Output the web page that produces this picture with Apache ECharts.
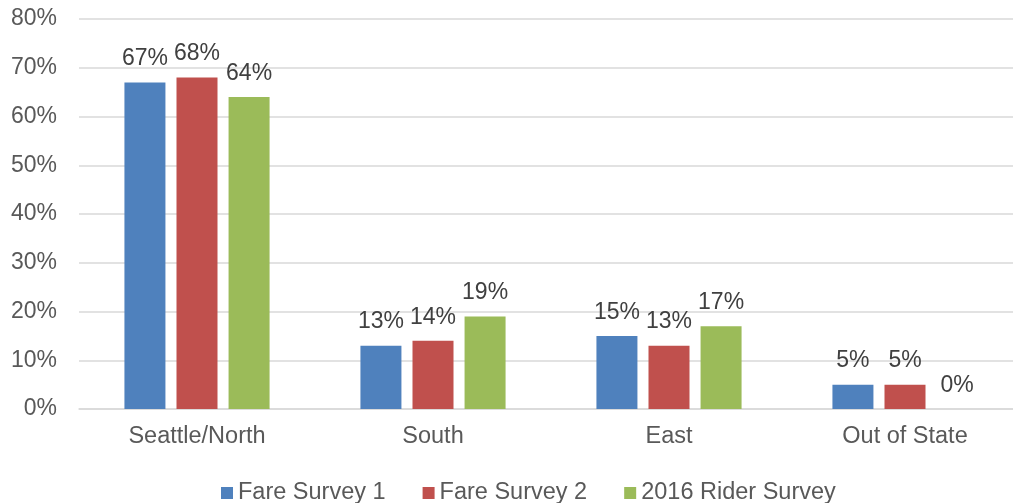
<!DOCTYPE html>
<html>
<head>
<meta charset="utf-8">
<script src="https://cdn.jsdelivr.net/npm/echarts@6/dist/echarts.min.js"></script>
<style>
  html, body { margin: 0; padding: 0; background: #fff; overflow: hidden; }
  #chart { width: 1023px; height: 503px; }
</style>
</head>
<body>
<div id="chart"></div>
<script>
  // regions and survey shares (%)
  var regions = ['Seattle/North', 'South', 'East', 'Out of State'];
  var fareSurvey1 = [67, 13, 15, 5];
  var fareSurvey2 = [68, 14, 13, 5];
  var riderSurvey2016 = [64, 19, 17, 0];
  var seriesNames = ['Fare Survey 1', 'Fare Survey 2', '2016 Rider Survey'];
  var colors = ['#4f81bd', '#c0504d', '#9bbb59'];

  var font = 'Liberation Sans, Arial, sans-serif';
  var fs = 23;

  function bar(name, data, color) {
    return {
      name: name,
      type: 'bar',
      data: data,
      barWidth: 41,
      barGap: '27%',
      itemStyle: { color: color },
      label: {
        show: true,
        position: 'top',
        distance: 12,
        formatter: '{c}%',
        color: '#404040',
        fontSize: fs,
        fontFamily: font
      }
    };
  }

  var chart = echarts.init(document.getElementById('chart'));
  chart.setOption({
    animation: false,
    color: colors,
    grid: { left: 79, top: 19, right: 0, height: 390 },
    legend: {
      data: seriesNames,
      top: 476,
      left: 216,
      icon: 'rect',
      itemWidth: 12,
      itemHeight: 12,
      itemGap: 37,
      textStyle: { color: '#595959', fontSize: 23.5, fontFamily: font }
    },
    xAxis: {
      type: 'category',
      data: regions,
      axisTick: { show: false },
      axisLine: { lineStyle: { color: '#d9d9d9', width: 1.5 } },
      axisLabel: { color: '#595959', fontSize: 23.5, fontFamily: font, margin: 16 }
    },
    yAxis: {
      type: 'value',
      min: 0,
      max: 80,
      interval: 10,
      axisLine: { show: false },
      axisTick: { show: false },
      axisLabel: { formatter: '{value}%', color: '#595959', fontSize: fs, fontFamily: font, margin: 22 },
      splitLine: { lineStyle: { color: '#d9d9d9', width: 1.5 } }
    },
    series: [
      bar(seriesNames[0], fareSurvey1, colors[0]),
      bar(seriesNames[1], fareSurvey2, colors[1]),
      bar(seriesNames[2], riderSurvey2016, colors[2])
    ]
  });
</script>
</body>
</html>
